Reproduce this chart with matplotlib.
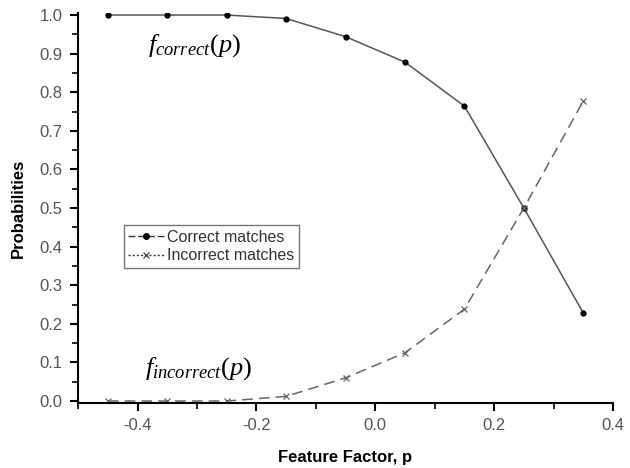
import matplotlib
matplotlib.use("Agg")
import matplotlib.pyplot as plt
from matplotlib.lines import Line2D
from matplotlib.ticker import MultipleLocator

p_values = [-0.45, -0.35, -0.25, -0.15, -0.05, 0.05, 0.15, 0.25, 0.35]
correct = [1.0, 1.0, 1.0, 0.991, 0.944, 0.878, 0.764, 0.50, 0.228]
incorrect = [0.0, 0.0, 0.0, 0.012, 0.060, 0.125, 0.238, 0.50, 0.777]

plt.rcParams['font.family'] = ['Liberation Sans', 'DejaVu Sans']
plt.rcParams['mathtext.fontset'] = 'custom'
plt.rcParams['mathtext.it'] = 'Liberation Serif:italic'
plt.rcParams['mathtext.rm'] = 'Liberation Serif'

fig = plt.figure(figsize=(6.3, 4.68), dpi=100)
ax = fig.add_axes([0.124, 0.139, 0.849, 0.833])

line_col = '#555555'
ax.plot(p_values, correct, color=line_col, lw=1.1, ls='-', marker='o', ms=3.5,
        mfc='black', mec='black')
ax.plot(p_values, incorrect, color='#666666', lw=1.1, ls=(0, (7, 4)), marker='x', ms=4,
        mec='#666666', mew=0.9)

ax.set_xlim(-0.5, 0.4)
ax.set_ylim(-0.005, 1.005)
ax.xaxis.set_minor_locator(MultipleLocator(0.1))
ax.yaxis.set_minor_locator(MultipleLocator(0.05))
ax.set_xticks([-0.4, -0.2, 0.0, 0.2, 0.4])
ax.set_xticklabels(['-0.4', '-0.2', '0.0', '0.2', '0.4'])
ax.set_yticks([0.0, 0.1, 0.2, 0.3, 0.4, 0.5, 0.6, 0.7, 0.8, 0.9, 1.0])
ax.set_yticklabels(['0.0', '0.1', '0.2', '0.3', '0.4', '0.5', '0.6', '0.7', '0.8', '0.9', '1.0'])

for s in ['top', 'right']:
    ax.spines[s].set_visible(False)
for s in ['left', 'bottom']:
    ax.spines[s].set_linewidth(1.5)
ax.tick_params(which='major', direction='out', length=6, width=1.5,
               labelsize=12, labelcolor='#555555', pad=5)
ax.tick_params(which='minor', direction='out', length=4, width=1.2)

ax.set_xlabel('Feature Factor, p', fontsize=12, fontweight='bold', labelpad=12)
ax.set_ylabel('Probabilities', fontsize=12, fontweight='bold', labelpad=10)

ax.text(-0.382, 0.922, r'$f_{correct}(p)$', fontsize=19, ha='left', va='center')
ax.text(-0.387, 0.085, r'$f_{incorrect}(p)$', fontsize=19, ha='left', va='center')

handles = [
    Line2D([], [], color='#333333', lw=1.0, ls=(0, (5, 2)), marker='o', ms=4,
           mfc='black', mec='black'),
    Line2D([], [], color='#333333', lw=1.0, ls=(0, (1.5, 1.5)), marker='x', ms=4,
           mec='#333333', mew=0.8),
]
leg = ax.legend(handles, ['Correct matches', 'Incorrect matches'],
                loc='upper left', bbox_to_anchor=(0.085, 0.456), fontsize=11.5,
                frameon=True, fancybox=False, edgecolor='#555555',
                handlelength=2.2, handletextpad=0.2, borderpad=0.3,
                labelspacing=0.2, borderaxespad=0)
leg.get_frame().set_linewidth(1.0)
for t in leg.get_texts():
    t.set_color('#333333')

fig.savefig('out.png', dpi=100)
